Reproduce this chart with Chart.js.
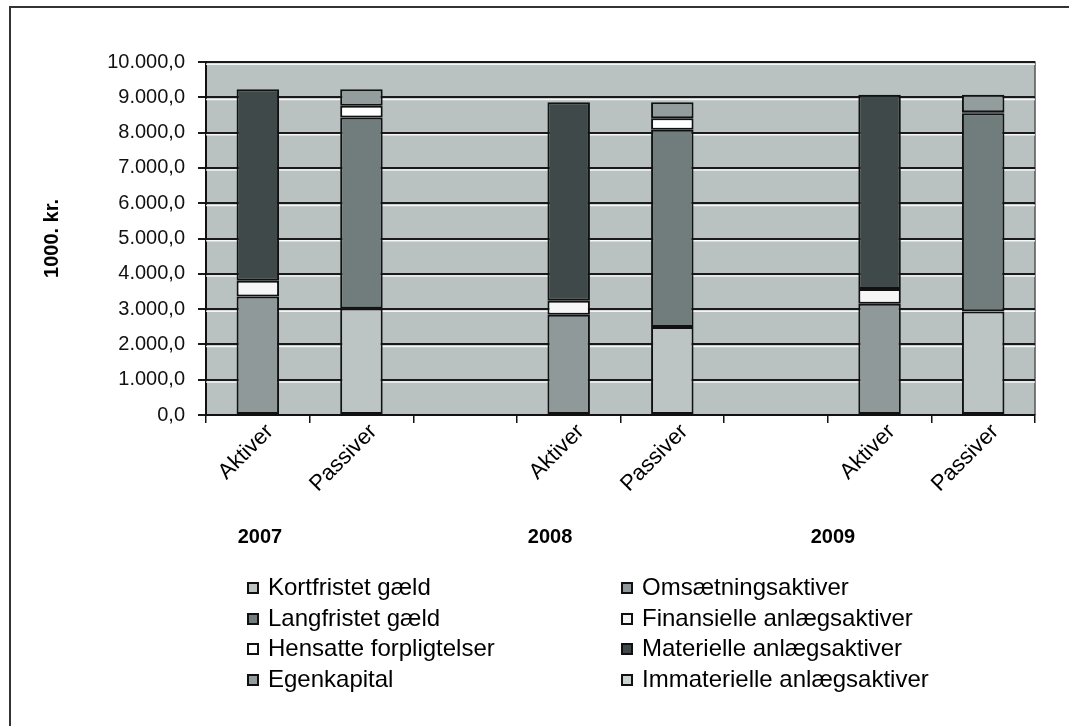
<!DOCTYPE html>
<html>
<head>
<meta charset="utf-8">
<script src="https://cdn.jsdelivr.net/npm/chart.js@4.4.1/dist/chart.umd.min.js"></script>
<style>
  html, body { margin: 0; padding: 0; background: #fff; }
  #wrap { position: relative; width: 1069px; height: 726px; overflow: hidden; }
  #frame { position: absolute; left: 9px; top: 6px; right: -10px; bottom: -10px;
           border-left: 2px solid #333; border-top: 2px solid #333; }
  #legend { position: absolute; left: 247px; top: 572px; display: grid;
            grid-template-columns: 374px 400px; grid-template-rows: repeat(4, 30.5px);
            grid-auto-flow: column; font-family: 'Liberation Sans', Arial, sans-serif;
            font-size: 24px; color: #000; line-height: 30.5px; }
  #legend .item { display: flex; align-items: center; white-space: nowrap; }
  #legend .box { width: 8px; height: 8px; border: 2px solid #111; margin-right: 9px; margin-top: 2px; }
</style>
</head>
<body>
<div id="wrap">
  <canvas id="balance" width="1069" height="726"></canvas>
  <div id="frame"></div>
  <div id="legend"></div>
</div>
<script>
// Kategorier og værdier (1000 kr.)
const categories = ['Aktiver', 'Passiver', '', 'Aktiver', 'Passiver', '', 'Aktiver', 'Passiver'];
const years = ['2007', '2008', '2009'];

const kortfristet  = [null, 3020, null, null, 2490, null, null, 2930];
const langfristet  = [null, 5410, null, null, 5590, null, null, 5620];
const hensatte     = [null, 330,  null, null, 330,  null, null, 25];
const egenkapital  = [null, 470,  null, null, 450,  null, null, 495];
const omsaetning   = [3360, null, null, 2840, null, null, 3150, null];
const finansielle  = [440,  null, null, 400,  null, null, 420,  null];
const materielle   = [5430, null, null, 5620, null, null, 5500, null];
const immaterielle = [0,    null, null, 0,    null, null, 0,    null];

// placering af årstal langs x-aksen (kategori-enheder)
const yearPos = [0.02, 2.82, 5.55];

function dk(v) {
    const s = Math.abs(v).toFixed(1).split('.');
    const int = s[0].replace(/\B(?=(\d{3})+(?!\d))/g, '.');
    return (v < 0 ? '-' : '') + int + ',' + s[1];
}

function ds(label, data, color) {
    return {
        label: label,
        data: data,
        backgroundColor: color,
        borderColor: '#111',
        borderWidth: 2,
        borderSkipped: false,
        categoryPercentage: 1,
        barPercentage: 0.41
    };
}

const datasets = [
    ds('Kortfristet gæld', kortfristet, '#bcc4c4'),
    ds('Langfristet gæld', langfristet, '#717c7c'),
    ds('Hensatte forpligtelser', hensatte, '#ffffff'),
    ds('Egenkapital', egenkapital, '#939d9d'),
    ds('Omsætningsaktiver', omsaetning, '#8f9999'),
    ds('Finansielle anlægsaktiver', finansielle, '#f6f6f6'),
    ds('Materielle anlægsaktiver', materielle, '#3f4949'),
    ds('Immaterielle anlægsaktiver', immaterielle, '#cdd3d3')
];

// baggrund i plotområdet, lys kant under gitterlinjer og årstal
const plotBg = {
    id: 'plotBg',
    beforeDraw(chart) {
        const { ctx, chartArea: a } = chart;
        ctx.save();
        ctx.fillStyle = '#b9c1c1';
        ctx.fillRect(a.left, a.top, a.right - a.left, a.bottom - a.top);
        ctx.strokeStyle = '#555';
        ctx.lineWidth = 1.5;
        ctx.beginPath();
        ctx.moveTo(a.left, a.top);
        ctx.lineTo(a.right, a.top);
        ctx.lineTo(a.right, a.bottom);
        ctx.stroke();
        ctx.restore();
    },
    beforeDatasetsDraw(chart) {
        const { ctx, chartArea: a, scales } = chart;
        ctx.save();
        ctx.strokeStyle = 'rgba(255,255,255,0.85)';
        ctx.lineWidth = 1.5;
        scales.y.ticks.forEach(t => {
            const y = scales.y.getPixelForValue(t.value) + 2.2;
            if (y > a.bottom - 1) return;
            ctx.beginPath();
            ctx.moveTo(a.left, y);
            ctx.lineTo(a.right, y);
            ctx.stroke();
        });
        ctx.restore();
    },
    afterDraw(chart) {
        const { ctx, chartArea: a, scales } = chart;
        ctx.save();
        ctx.fillStyle = '#000';
        ctx.font = 'bold 20px "Liberation Sans", Arial, sans-serif';
        ctx.textAlign = 'center';
        ctx.textBaseline = 'middle';
        years.forEach((y, i) => {
            ctx.fillText(y, scales.x.getPixelForValue(yearPos[i]), a.bottom + 122);
        });
        ctx.restore();
    }
};

const chart = new Chart(document.getElementById('balance'), {
    type: 'bar',
    data: { labels: categories, datasets: datasets },
    plugins: [plotBg],
    options: {
        responsive: false,
        animation: false,
        layout: { padding: { left: 38, top: 62, right: 34, bottom: 216 } },
        plugins: { legend: { display: false }, tooltip: { enabled: false } },
        scales: {
            x: {
                stacked: true,
                grid: { drawOnChartArea: false, drawTicks: true, tickLength: 8, color: '#111', lineWidth: 1.5 },
                border: { color: '#111', width: 2 },
                ticks: {
                    minRotation: 45, maxRotation: 45, padding: -4, labelOffset: 12, autoSkip: false,
                    color: '#000', font: { family: 'Liberation Sans', size: 22 }
                },
                afterFit(s) { s.height = 95; }
            },
            y: {
                stacked: true, min: 0, max: 10000,
                ticks: {
                    stepSize: 1000, padding: 13, color: '#111',
                    font: { family: 'Liberation Sans', size: 20 },
                    callback: v => dk(v)
                },
                grid: { color: '#1a1a1a', lineWidth: 2, tickLength: 8 },
                border: { color: '#111', width: 2 },
                title: {
                    display: true, text: '1000. kr.', color: '#000', padding: 2,
                    font: { family: 'Liberation Sans', size: 20, weight: 'bold' }
                },
                afterFit(s) { s.width = 168; }
            }
        }
    }
});

// legende i to kolonner
const legend = document.getElementById('legend');
chart.data.datasets.forEach(d => {
    const item = document.createElement('div');
    item.className = 'item';
    const box = document.createElement('span');
    box.className = 'box';
    box.style.background = d.backgroundColor;
    const txt = document.createElement('span');
    txt.textContent = d.label;
    item.appendChild(box);
    item.appendChild(txt);
    legend.appendChild(item);
});
</script>
</body>
</html>
